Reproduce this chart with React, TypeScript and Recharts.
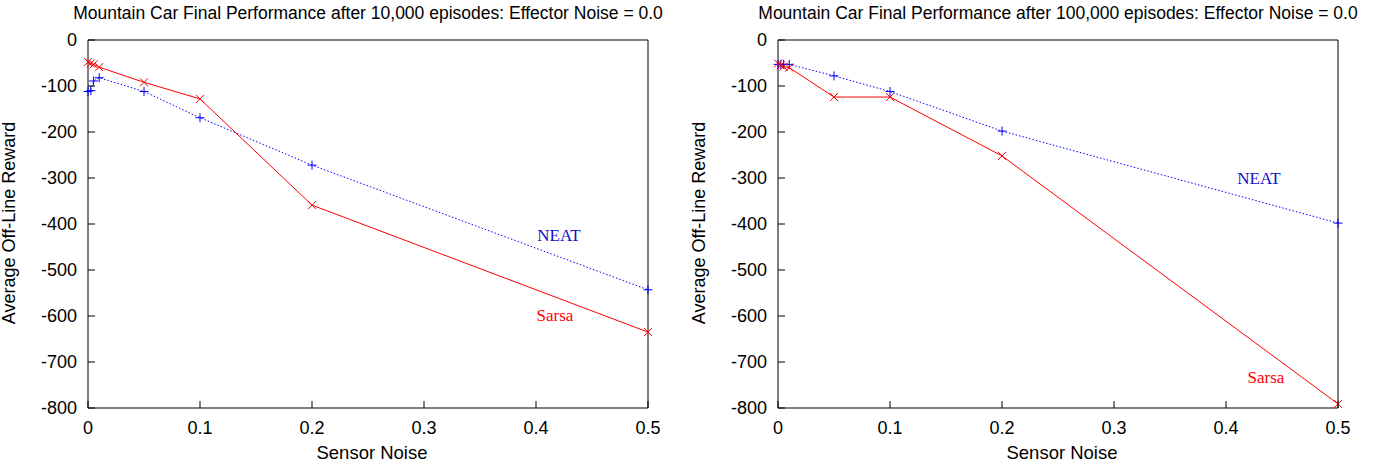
import React from 'react';
import { LineChart, Line, XAxis, YAxis } from 'recharts';

// sensor noise levels tested
const noiseLevels = [0, 0.0025, 0.005, 0.01, 0.05, 0.1, 0.2, 0.5];

// 10,000 episodes
const sarsa10k = [-48, -51, -53, -59, -92, -128, -359, -635];
const neat10k = [-112, -110, -89, -82, -112, -169, -272, -543];

// 100,000 episodes
const sarsa100k = [-51, -55, -58, -60, -124, -124, -252, -791];
const neat100k = [-53, -53, -53, -53, -78, -112, -198, -398];

const xTicks = [0, 0.1, 0.2, 0.3, 0.4, 0.5];
const yTicks = [0, -100, -200, -300, -400, -500, -600, -700, -800];

const title10k = 'Mountain Car Final Performance after 10,000 episodes: Effector Noise = 0.0';
const title100k = 'Mountain Car Final Performance after 100,000 episodes: Effector Noise = 0.0';

const SANS = '"Liberation Sans", Arial, sans-serif';
const SERIF = '"Liberation Serif", "Times New Roman", serif';

const W = 690;
const H = 465;

const toRows = (vals: number[]) => noiseLevels.map((x, i) => ({ x, v: vals[i] }));

const LeftTick = (p: any) => (
  <g>
    <line x1={p.x + 11} x2={p.x + 18} y1={p.y} y2={p.y} stroke="#000" />
    <text x={p.x} y={p.y} dy="0.355em" textAnchor="end" fontSize={18} fontFamily={SANS} fill="#000">
      {p.payload.value}
    </text>
  </g>
);

const BottomTick = (p: any) => (
  <g>
    <line x1={p.x} x2={p.x} y1={p.y - 13} y2={p.y - 20} stroke="#000" />
    <text x={p.x} y={p.y} dy="0.71em" textAnchor="middle" fontSize={18} fontFamily={SANS} fill="#000">
      {p.payload.value}
    </text>
  </g>
);

const TopTick = (p: any) => <line x1={p.x} x2={p.x} y1={p.y} y2={p.y + 7} stroke="#000" />;
const RightTick = (p: any) => <line x1={p.x} x2={p.x - 7} y1={p.y} y2={p.y} stroke="#000" />;

const Cross = (p: any) => {
  if (p.cx == null || p.cy == null) return null;
  const s = 4;
  return (
    <g stroke="#ff0000" strokeWidth={1}>
      <line x1={p.cx - s} y1={p.cy - s} x2={p.cx + s} y2={p.cy + s} />
      <line x1={p.cx - s} y1={p.cy + s} x2={p.cx + s} y2={p.cy - s} />
    </g>
  );
};

const Plus = (p: any) => {
  if (p.cx == null || p.cy == null) return null;
  const s = 4.5;
  return (
    <g stroke="#0000ff" strokeWidth={1}>
      <line x1={p.cx - s} y1={p.cy} x2={p.cx + s} y2={p.cy} />
      <line x1={p.cx} y1={p.cy - s} x2={p.cx} y2={p.cy + s} />
    </g>
  );
};

const Txt = ({ x, y, children, style }: any) => (
  <div
    style={{
      position: 'absolute',
      left: x,
      top: y,
      transform: 'translateX(-50%)',
      whiteSpace: 'nowrap',
      ...style,
    }}
  >
    {children}
  </div>
);

interface PanelProps {
  left: number;
  title: string;
  sarsa: number[];
  neat: number[];
  neatAt: [number, number];
  sarsaAt: [number, number];
}

const Panel = ({ left, title, sarsa, neat, neatAt, sarsaAt }: PanelProps) => (
  <div style={{ position: 'absolute', left, top: 0, width: W, height: H }}>
    <LineChart width={W} height={H} margin={{ top: 39, right: 41, bottom: 0, left: 0 }}>
      <XAxis
        xAxisId="b"
        dataKey="x"
        type="number"
        domain={[0, 0.5]}
        ticks={xTicks}
        interval={0}
        height={57}
        tickSize={0}
        tickMargin={13}
        tick={<BottomTick />}
        axisLine={{ stroke: '#000' }}
      />
      <XAxis
        xAxisId="t"
        orientation="top"
        type="number"
        domain={[0, 0.5]}
        ticks={xTicks}
        interval={0}
        height={1}
        tickSize={0}
        tickMargin={0}
        tick={<TopTick />}
        axisLine={{ stroke: '#000' }}
      />
      <YAxis
        yAxisId="l"
        type="number"
        domain={[-800, 0]}
        ticks={yTicks}
        interval={0}
        width={88}
        tickSize={0}
        tickMargin={11}
        tick={<LeftTick />}
        axisLine={{ stroke: '#000' }}
      />
      <YAxis
        yAxisId="r"
        orientation="right"
        type="number"
        domain={[-800, 0]}
        ticks={yTicks}
        interval={0}
        width={1}
        tickSize={0}
        tickMargin={0}
        tick={<RightTick />}
        axisLine={{ stroke: '#000' }}
      />
      <Line
        xAxisId="b"
        yAxisId="l"
        data={toRows(neat)}
        dataKey="v"
        stroke="#0000ff"
        strokeWidth={1}
        strokeDasharray="1.5 2"
        dot={<Plus />}
        activeDot={false}
        isAnimationActive={false}
      />
      <Line
        xAxisId="b"
        yAxisId="l"
        data={toRows(sarsa)}
        dataKey="v"
        stroke="#ff0000"
        strokeWidth={1}
        dot={<Cross />}
        activeDot={false}
        isAnimationActive={false}
      />
    </LineChart>
    <Txt x={368} y={5} style={{ fontFamily: SANS, fontSize: 17.5, lineHeight: '17.5px' }}>
      {title}
    </Txt>
    <Txt x={372} y={444} style={{ fontFamily: SANS, fontSize: 18.5, lineHeight: '18.5px' }}>
      Sensor Noise
    </Txt>
    <div
      style={{
        position: 'absolute',
        left: 9,
        top: 223,
        transform: 'translate(-50%, -50%) rotate(-90deg)',
        whiteSpace: 'nowrap',
        fontFamily: SANS,
        fontSize: 18,
        lineHeight: '18px',
      }}
    >
      Average Off-Line Reward
    </div>
    <Txt x={neatAt[0]} y={neatAt[1] - 14} style={{ fontFamily: SERIF, fontSize: 17, lineHeight: '17px', color: '#1010c8' }}>
      NEAT
    </Txt>
    <Txt x={sarsaAt[0]} y={sarsaAt[1] - 14} style={{ fontFamily: SERIF, fontSize: 17, lineHeight: '17px', color: '#ff0000' }}>
      Sarsa
    </Txt>
  </div>
);

export default function App() {
  return (
    <div style={{ position: 'absolute', left: 0, top: 0, width: 1375, height: H, background: '#fff' }}>
      <Panel left={0} title={title10k} sarsa={sarsa10k} neat={neat10k} neatAt={[559, 241]} sarsaAt={[555, 321]} />
      <Panel left={690} title={title100k} sarsa={sarsa100k} neat={neat100k} neatAt={[569, 184]} sarsaAt={[576, 383]} />
    </div>
  );
}
